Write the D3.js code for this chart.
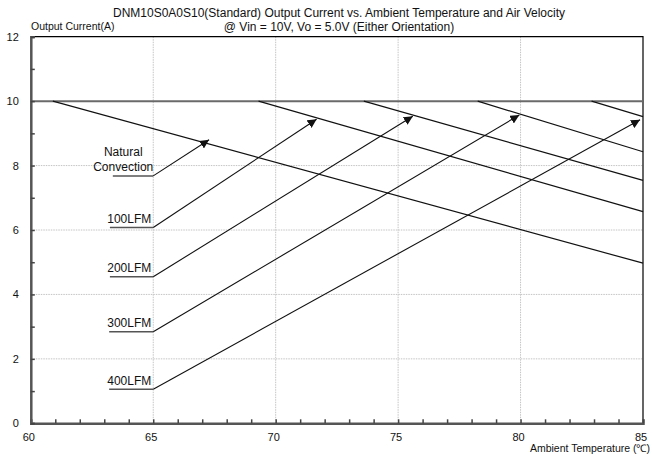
<!DOCTYPE html>
<html>
<head>
<meta charset="utf-8">
<script src="https://cdn.jsdelivr.net/npm/d3@7"></script>
<style>
  body { margin: 0; background: #fff; }
  text { font-family: Arial, "Liberation Sans", sans-serif; fill: #111; }
</style>
</head>
<body>
<svg id="chart"></svg>
<script>
// derating curves: flat at maxCurrent until startTemp, then straight down to currentAt85
const series = ['Natural Convection', '100LFM', '200LFM', '300LFM', '400LFM'];
const startTemp = [60.9, 69.3, 73.6, 78.25, 82.9];
const currentAt85 = [4.97, 6.57, 7.54, 8.43, 9.52];
const maxCurrent = 10;

// annotation leaders: underline at labelCurrent from labelTempStart to 65, arrow to tip
const labelCurrent = [7.68, 6.08, 4.55, 2.84, 1.06];
const labelTempStart = [63.35, 63.23, 63.23, 63.2, 63.2];
const tipTemp = [67.28, 71.67, 75.6, 79.95, 84.88];
const tipCurrent = [8.80, 9.44, 9.53, 9.57, 9.42];

const xTicks = [60, 65, 70, 75, 80, 85];
const yTicks = [0, 2, 4, 6, 8, 10, 12];

const width = 653, height = 458;
const plotLeft = 30.8, plotRight = 643, plotTop = 36.7, plotBottom = 423.3;

const svg = d3.select('#chart').attr('width', width).attr('height', height);

const x = d3.scaleLinear().domain([60, 85]).range([plotLeft, plotRight]);
const y = d3.scaleLinear().domain([0, 12]).range([plotBottom, plotTop]);

// grid
svg.append('g').selectAll('line')
  .data(xTicks.slice(1, -1))
  .enter().append('line')
  .attr('x1', d => x(d)).attr('x2', d => x(d))
  .attr('y1', plotTop).attr('y2', plotBottom)
  .attr('stroke', '#c4c4c4').attr('stroke-width', 1).attr('stroke-dasharray', '1.5,1');

svg.append('g').selectAll('line')
  .data(yTicks.slice(1, -2))
  .enter().append('line')
  .attr('x1', plotLeft).attr('x2', plotRight)
  .attr('y1', d => y(d)).attr('y2', d => y(d))
  .attr('stroke', '#c4c4c4').attr('stroke-width', 1).attr('stroke-dasharray', '1.5,1');

// top and right border
svg.append('path')
  .attr('d', 'M' + plotLeft + ',' + plotTop + 'H' + plotRight + 'V' + plotBottom)
  .attr('fill', 'none').attr('stroke', '#000').attr('stroke-width', 1.2);

// flat part at max current
svg.append('line')
  .attr('x1', x(60)).attr('x2', x(85))
  .attr('y1', y(maxCurrent)).attr('y2', y(maxCurrent))
  .attr('stroke', '#6a6a6a').attr('stroke-width', 2);

// sloped parts
const line = d3.line().x(d => x(d[0])).y(d => y(d[1]));
svg.append('g').selectAll('path')
  .data(series.map((s, i) => [[startTemp[i], maxCurrent], [85, currentAt85[i]]]))
  .enter().append('path')
  .attr('d', line)
  .attr('fill', 'none').attr('stroke', '#111').attr('stroke-width', 1.2);

// arrow marker
svg.append('defs').append('marker')
  .attr('id', 'arrow')
  .attr('viewBox', '0 0 10 10')
  .attr('refX', 10).attr('refY', 5)
  .attr('markerWidth', 9).attr('markerHeight', 9)
  .attr('markerUnits', 'userSpaceOnUse')
  .attr('orient', 'auto')
  .append('path').attr('d', 'M0,0L10,5L0,10Z').attr('fill', '#111');

const notes = svg.append('g');
series.forEach((s, i) => {
  notes.append('line')
    .attr('x1', x(labelTempStart[i])).attr('x2', x(65))
    .attr('y1', y(labelCurrent[i])).attr('y2', y(labelCurrent[i]))
    .attr('stroke', '#555').attr('stroke-width', 1.5);
  notes.append('line')
    .attr('x1', x(65)).attr('y1', y(labelCurrent[i]))
    .attr('x2', x(tipTemp[i])).attr('y2', y(tipCurrent[i]))
    .attr('stroke', '#111').attr('stroke-width', 1.1)
    .attr('marker-end', 'url(#arrow)');

  if (i === 0) {
    const t = notes.append('text')
      .attr('x', x(65) - 30).attr('y', y(labelCurrent[i]) - 20)
      .attr('text-anchor', 'middle').attr('font-size', 12);
    t.append('tspan').text('Natural');
    t.append('tspan').attr('x', x(65) - 30).attr('dy', 15.5).text('Convection');
  } else {
    notes.append('text')
      .attr('x', x(65) - 2).attr('y', y(labelCurrent[i]) - 4.5)
      .attr('text-anchor', 'end').attr('font-size', 12)
      .text(s);
  }
});

// axes
const xAxis = svg.append('g')
  .attr('transform', 'translate(0,' + plotBottom + ')')
  .call(d3.axisBottom(x).tickValues(d3.range(60, 86, 1)).tickSize(-4).tickPadding(10)
    .tickFormat(d => xTicks.includes(d) ? d : ''));
xAxis.select('.domain').attr('stroke', '#555').attr('stroke-width', 2.5);
xAxis.selectAll('.tick line').attr('stroke', '#444').attr('stroke-width', 1.5);
xAxis.selectAll('.tick text').attr('font-size', 11).attr('dx', -2.5).attr('fill', '#111');

const yAxis = svg.append('g')
  .attr('transform', 'translate(' + plotLeft + ',0)')
  .call(d3.axisLeft(y).tickValues(d3.range(0, 13, 1)).tickSize(-4).tickPadding(12)
    .tickFormat(d => yTicks.includes(d) ? d : ''));
yAxis.select('.domain').attr('stroke', '#555').attr('stroke-width', 2.5);
yAxis.selectAll('.tick line').attr('stroke', '#444').attr('stroke-width', 1.5);
yAxis.selectAll('.tick text').attr('font-size', 11).attr('fill', '#111');

// titles
svg.append('text')
  .attr('x', 339).attr('y', 17)
  .attr('text-anchor', 'middle').attr('font-size', 12)
  .text('DNM10S0A0S10(Standard) Output Current vs. Ambient Temperature and Air Velocity');
svg.append('text')
  .attr('x', 339).attr('y', 31)
  .attr('text-anchor', 'middle').attr('font-size', 12)
  .text('@ Vin = 10V, Vo = 5.0V (Either Orientation)');
svg.append('text')
  .attr('x', 31).attr('y', 30)
  .attr('font-size', 10.5)
  .text('Output Current(A)');
svg.append('text')
  .attr('x', 650).attr('y', 452)
  .attr('text-anchor', 'end').attr('font-size', 10.5)
  .text('Ambient Temperature (℃)');
</script>
</body>
</html>
